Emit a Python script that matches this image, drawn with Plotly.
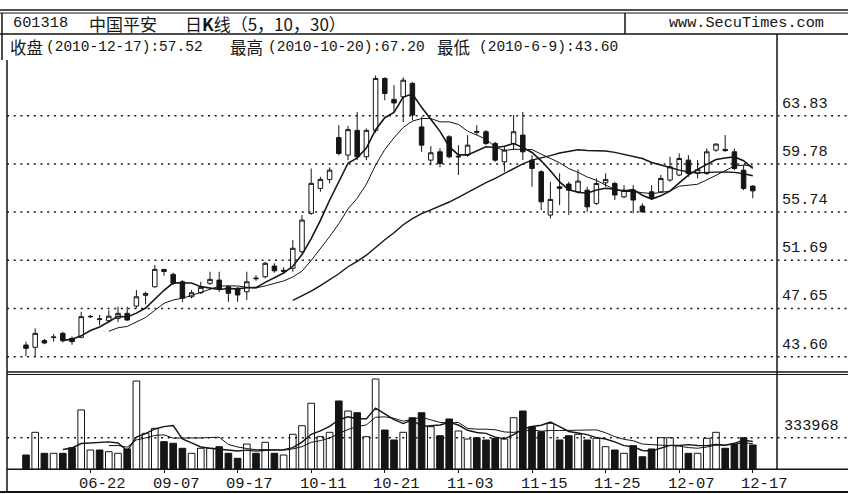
import plotly.graph_objects as go
import pandas as pd

W, H = 848, 494

# ---------------- data ----------------
dates = [
    "2010-06-08", "2010-06-09", "2010-06-10", "2010-06-11", "2010-06-17", "2010-06-18", "2010-06-21", "2010-06-22",
    "2010-06-23", "2010-06-24", "2010-06-25", "2010-06-28", "2010-09-02", "2010-09-03", "2010-09-06", "2010-09-07",
    "2010-09-08", "2010-09-09", "2010-09-10", "2010-09-13", "2010-09-14", "2010-09-15", "2010-09-16", "2010-09-17",
    "2010-09-20", "2010-09-21", "2010-09-27", "2010-09-28", "2010-09-29", "2010-09-30", "2010-10-08", "2010-10-11",
    "2010-10-12", "2010-10-13", "2010-10-14", "2010-10-15", "2010-10-18", "2010-10-19", "2010-10-20", "2010-10-21",
    "2010-10-22", "2010-10-25", "2010-10-26", "2010-10-27", "2010-10-28", "2010-11-01", "2010-11-02", "2010-11-03",
    "2010-11-04", "2010-11-05", "2010-11-08", "2010-11-09", "2010-11-10", "2010-11-11", "2010-11-12", "2010-11-15",
    "2010-11-16", "2010-11-17", "2010-11-18", "2010-11-19", "2010-11-22", "2010-11-23", "2010-11-24", "2010-11-25",
    "2010-11-26", "2010-11-29", "2010-11-30", "2010-12-01", "2010-12-02", "2010-12-03", "2010-12-06", "2010-12-07",
    "2010-12-08", "2010-12-09", "2010-12-10", "2010-12-13", "2010-12-14", "2010-12-15", "2010-12-16", "2010-12-17",
]

opens = [
    44.58, 44.39, 44.95, 45.20, 45.56, 45.14, 45.23, 46.95, 46.78, 46.62,
    46.82, 47.24, 47.85, 48.75, 49.47, 50.93, 50.51, 49.89, 48.63, 48.97,
    49.76, 50.03, 49.47, 49.34, 49.05, 50.20, 50.31, 51.21, 50.75, 51.02,
    52.41, 55.63, 57.73, 58.48, 61.99, 60.52, 62.60, 60.38, 62.60, 66.96,
    65.20, 65.41, 66.54, 62.89, 60.10, 60.80, 62.06, 60.36, 60.52, 62.50,
    62.48, 61.50, 59.96, 61.50, 62.20, 60.10, 59.12, 55.49, 57.86, 58.09,
    57.44, 57.58, 56.47, 58.20, 58.14, 57.02, 57.58, 56.24, 57.44, 57.44,
    58.43, 58.85, 60.10, 58.98, 58.98, 60.94, 61.00, 60.80, 59.26, 57.92,
]
highs = [
    44.86, 45.98, 45.10, 45.50, 45.70, 45.30, 47.37, 47.10, 47.10, 47.50,
    47.80, 47.80, 49.20, 49.05, 51.30, 50.95, 50.65, 50.03, 49.20, 49.89,
    50.73, 50.73, 49.60, 49.45, 50.73, 50.45, 51.57, 51.44, 51.10, 53.39,
    55.49, 59.40, 58.70, 59.49, 63.04, 62.96, 64.15, 62.76, 67.20, 67.05,
    66.40, 67.05, 66.67, 63.73, 61.28, 61.10, 62.20, 61.36, 62.20, 63.04,
    62.62, 61.64, 61.22, 63.88, 64.15, 60.52, 59.26, 58.28, 58.99, 58.28,
    59.32, 57.86, 58.56, 58.99, 58.28, 58.00, 58.00, 56.47, 58.00, 58.85,
    60.38, 60.66, 60.52, 60.10, 61.08, 61.50, 62.20, 61.08, 59.68, 58.00,
]
lows = [
    43.65, 43.60, 44.65, 44.86, 44.80, 44.60, 45.14, 46.85, 46.25, 46.45,
    46.50, 46.62, 47.66, 48.00, 49.40, 50.40, 49.60, 48.20, 48.50, 48.86,
    49.62, 49.05, 48.20, 48.20, 48.36, 49.98, 50.18, 50.65, 50.55, 50.73,
    52.30, 55.50, 57.44, 58.15, 60.50, 60.10, 60.10, 60.10, 62.40, 65.13,
    64.15, 63.30, 63.46, 60.80, 59.68, 59.50, 60.24, 58.85, 60.38, 62.20,
    61.36, 59.96, 59.12, 60.94, 60.10, 57.86, 55.90, 55.21, 56.33, 55.49,
    57.30, 55.76, 56.33, 57.86, 56.75, 56.89, 55.63, 55.68, 56.75, 57.36,
    58.28, 58.76, 58.70, 58.56, 58.85, 60.80, 60.80, 59.26, 57.58, 56.90,
]
closes = [
    44.30, 45.56, 44.75, 45.25, 44.94, 44.86, 46.96, 46.98, 46.74, 47.00,
    47.24, 46.68, 48.63, 48.90, 50.93, 50.75, 49.76, 48.50, 48.97, 49.42,
    50.09, 49.25, 48.92, 48.78, 49.89, 50.15, 51.44, 50.81, 50.85, 52.70,
    55.07, 58.15, 58.48, 59.26, 60.66, 62.66, 60.38, 62.60, 66.96, 65.70,
    64.90, 66.81, 63.88, 61.36, 60.72, 59.82, 60.38, 60.42, 61.36, 62.45,
    61.50, 60.10, 60.94, 62.48, 60.80, 59.40, 56.60, 56.80, 57.73, 57.58,
    58.34, 56.18, 58.14, 58.48, 57.17, 57.58, 56.75, 55.76, 56.89, 58.56,
    59.54, 60.24, 58.98, 59.30, 60.80, 61.45, 60.90, 59.40, 57.73, 57.52,
]
volumes = [
    151000, 391000, 169000, 169000, 169000, 228000, 627000, 204000, 204000, 186000,
    169000, 215000, 933000, 380000, 433000, 292000, 275000, 222000, 169000, 222000,
    222000, 239000, 169000, 116000, 267000, 169000, 285000, 169000, 151000, 370000,
    461000, 698000, 345000, 391000, 722000, 616000, 598000, 345000, 954000, 415000,
    310000, 391000, 545000, 598000, 450000, 355000, 532000, 405000, 320000, 334000,
    310000, 328000, 320000, 545000, 616000, 450000, 397000, 486000, 310000, 355000,
    370000, 310000, 328000, 239000, 204000, 169000, 250000, 133000, 215000, 334000,
    334000, 250000, 169000, 169000, 328000, 391000, 222000, 264000, 334000, 257000,
]

stock_code = "601318"
stock_name = "中国平安"
chart_name = "日<b>K</b>线（5，10，30）"
site_name = "www.SecuTimes.com"
price_ticks = [43.60, 47.65, 51.69, 55.74, 59.78, 63.83]
vol_ticks = [333968]
xtick_labels = ["06-22", "09-07", "09-17", "10-11", "10-21", "11-03", "11-15", "11-25", "12-07", "12-17"]
ma_periods = [5, 10, 30]
vol_ma_periods = [5, 10]

# ---------------- helpers ----------------
INK = "#151515"
MONO = "Liberation Mono, DejaVu Sans Mono, monospace"
CJK = "Noto Sans CJK SC, Noto Sans CJK JP, sans-serif"


def px(x):
    return x / W


def py(y):
    return 1 - y / H


def fmt_date(d):
    y, m, dd = d.split("-")
    return f"{int(y)}-{int(m)}-{int(dd)}"


idx = list(range(len(dates)))
tick_pos = [dates.index("2010-" + lab) for lab in xtick_labels]

# pixel calibration of the panels
X_LEFT, X_RIGHT = 7, 777
STEP = 9.2
FIRST_X = 26
x0_val = -(FIRST_X - X_LEFT) / STEP
x1_val = x0_val + (X_RIGHT - X_LEFT) / STEP

P_TOP, P_BOT = 57, 372
PX_PER_UNIT = 11.913
REF_Y = 356.7  # pixel of lowest price tick
p_lo = price_ticks[0] - (P_BOT - REF_Y) / PX_PER_UNIT
p_hi = price_ticks[0] + (REF_Y - P_TOP) / PX_PER_UNIT

V_TOP, V_BOT = 373, 469.3
VOL_PER_PX = vol_ticks[0] / 31.6
v_hi = (V_BOT - V_TOP) * VOL_PER_PX

fig = go.Figure()

fig.add_trace(go.Candlestick(
    x=idx, open=opens, high=highs, low=lows, close=closes,
    increasing=dict(line=dict(color=INK, width=1), fillcolor="white"),
    decreasing=dict(line=dict(color=INK, width=1), fillcolor=INK),
    whiskerwidth=0, xaxis="x", yaxis="y", showlegend=False, hoverinfo="skip",
))

close_s = pd.Series(closes)
ma_widths = {5: 1.6, 10: 1.0, 30: 1.4}
for n in ma_periods:
    fig.add_trace(go.Scatter(
        x=idx, y=close_s.rolling(n).mean(), mode="lines",
        line=dict(color=INK, width=ma_widths[n]), xaxis="x", yaxis="y",
        showlegend=False, hoverinfo="skip",
    ))

bar_colors = ["white" if c >= o else INK for o, c in zip(opens, closes)]
fig.add_trace(go.Bar(
    x=idx, y=volumes, width=0.72,
    marker=dict(color=bar_colors, line=dict(color=INK, width=1)),
    xaxis="x", yaxis="y2", showlegend=False, hoverinfo="skip",
))
vol_s = pd.Series(volumes)
for n, wdt in zip(vol_ma_periods, [1.4, 1.0]):
    fig.add_trace(go.Scatter(
        x=idx, y=vol_s.rolling(n).mean(), mode="lines",
        line=dict(color=INK, width=wdt), xaxis="x", yaxis="y2",
        showlegend=False, hoverinfo="skip",
    ))

# ---------------- frame / grid ----------------
shapes = []


def hline(y, xa, xb, w):
    shapes.append(dict(type="line", xref="paper", yref="paper", x0=px(xa), x1=px(xb),
                       y0=py(y), y1=py(y), line=dict(color=INK, width=w)))


def vline(x, ya, yb, w):
    shapes.append(dict(type="line", xref="paper", yref="paper", x0=px(x), x1=px(x),
                       y0=py(ya), y1=py(yb), line=dict(color=INK, width=w)))


hline(10, 0, W, 1.6)
hline(13, 0, W, 1.0)
hline(34, 0, W, 1.6)
vline(625, 13, 34, 1.5)
vline(2, 13, 60, 1.5)
vline(7, 60, 492, 1.5)
vline(777, 34, V_BOT, 1.5)
hline(372, 7, W, 1.6)
hline(374.5, 7, W, 1.0)
hline(V_BOT, 7, W, 1.6)
hline(492, 0, W, 2.2)

for v in price_ticks:
    shapes.append(dict(type="line", xref="paper", yref="y", x0=px(X_LEFT), x1=1, y0=v, y1=v,
                       line=dict(color=INK, width=1.5, dash="2px,4.7px")))
for v in vol_ticks:
    shapes.append(dict(type="line", xref="paper", yref="y2", x0=px(X_LEFT), x1=1, y0=v, y1=v,
                       line=dict(color=INK, width=1.5, dash="2px,4.7px")))

# ---------------- text ----------------
ann = []


def text(x, y, s, fam, size, **kw):
    ann.append(dict(x=px(x), y=py(y), xref="paper", yref="paper", text=s, showarrow=False,
                    xanchor="left", yanchor="middle", font=dict(family=fam, size=size, color=INK), **kw))


text(11, 23, stock_code, MONO, 15.3)
text(87, 23, stock_name, CJK, 17)
text(183, 23, chart_name, CJK, 17)
text(667, 23, site_name, MONO, 15.2)

hi_i = max(idx, key=lambda i: highs[i])
lo_i = min(idx, key=lambda i: lows[i])
text(8, 47.5, "收盘", CJK, 16.5)
text(44, 47.5, f"({fmt_date(dates[-1])}):{closes[-1]:.2f}", MONO, 14.5)
text(228, 47.5, "最高", CJK, 16.5)
text(266, 47.5, f"({fmt_date(dates[hi_i])}):{highs[hi_i]:.2f}", MONO, 14.5)
text(435, 47.5, "最低", CJK, 16.5)
text(477, 47.5, f"({fmt_date(dates[lo_i])}):{lows[lo_i]:.2f}", MONO, 14.5)

for v in price_ticks:
    ann.append(dict(x=px(780), y=v, xref="paper", yref="y", text=f"{v:.2f}", showarrow=False,
                    xanchor="left", yanchor="bottom", yshift=1, font=dict(family=MONO, size=15.2, color=INK)))
for v in vol_ticks:
    ann.append(dict(x=px(782), y=v, xref="paper", yref="y2", text=f"{v}", showarrow=False,
                    xanchor="left", yanchor="bottom", yshift=1, font=dict(family=MONO, size=15.2, color=INK)))

for pos, lab in zip(tick_pos, xtick_labels):
    ann.append(dict(x=pos, y=py(484), xref="x", yref="paper", text=lab, showarrow=False,
                    xanchor="center", yanchor="middle", xshift=12,
                    font=dict(family=MONO, size=15.5, color=INK)))

fig.update_layout(
    width=W, height=H, margin=dict(l=0, r=0, t=0, b=0, pad=0),
    paper_bgcolor="white", plot_bgcolor="white", showlegend=False,
    shapes=shapes, annotations=ann, bargap=0,
    xaxis=dict(domain=[px(X_LEFT), px(X_RIGHT)], range=[x0_val, x1_val], anchor="y2",
               tickmode="array", tickvals=tick_pos, ticktext=xtick_labels,
               ticks="outside", ticklen=3, tickwidth=1, tickcolor=INK,
               showticklabels=False,
               showgrid=False, zeroline=False, showline=False,
               rangeslider=dict(visible=False), fixedrange=True),
    yaxis=dict(domain=[py(P_BOT), py(P_TOP)], range=[p_lo, p_hi], showgrid=False,
               zeroline=False, showticklabels=False, showline=False, fixedrange=True),
    yaxis2=dict(domain=[py(V_BOT), py(V_TOP)], range=[0, v_hi], showgrid=False,
                zeroline=False, showticklabels=False, showline=False, fixedrange=True),
)

fig.write_html(
    "out.html",
    config={"displayModeBar": False, "staticPlot": True},
    post_script="document.body.style.margin='0';document.body.style.overflow='hidden';",
)
